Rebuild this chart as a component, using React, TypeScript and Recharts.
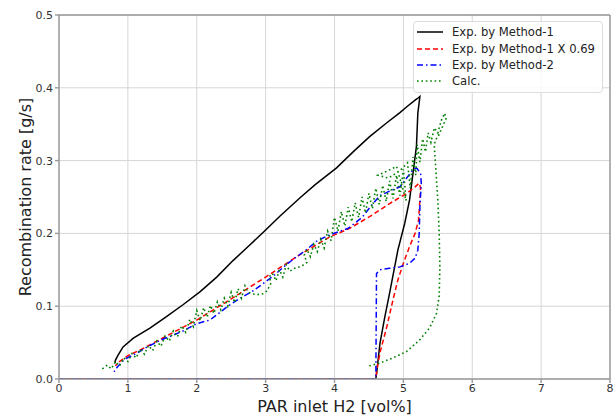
import React from 'react';
import { LineChart, Line, XAxis, YAxis, CartesianGrid, ReferenceLine, Legend } from 'recharts';

const FONT = '"DejaVu Sans", Verdana, sans-serif';

const xTicks = [0, 1, 2, 3, 4, 5, 6, 7, 8];
const yTicks = [0, 0.1, 0.2, 0.3, 0.4, 0.5];

// [PAR inlet H2 vol%, recombination rate g/s], in the order the curve is traced
const method1: [number, number][] = [
  [0, 0], [4.6, 0], [4.62, 0.015], [4.66, 0.049], [4.73, 0.085], [4.8, 0.118], [4.92, 0.177],
  [5.02, 0.214], [5.09, 0.246], [5.15, 0.29], [5.19, 0.32], [5.21, 0.365], [5.24, 0.388],
  [5.2, 0.385], [5.17, 0.383], [5.05, 0.374], [4.95, 0.366], [4.76, 0.352], [4.51, 0.333],
  [4.27, 0.312], [4.03, 0.29], [3.72, 0.267], [3.5, 0.249], [3.21, 0.224], [2.97, 0.202],
  [2.77, 0.184], [2.53, 0.163], [2.29, 0.14], [2.05, 0.12], [1.8, 0.102], [1.55, 0.085],
  [1.32, 0.07], [1.08, 0.056], [0.93, 0.044], [0.86, 0.033], [0.82, 0.026], [0.81, 0.022],
];

const method1Scaled: [number, number][] = [
  [0, 0], [4.6, 0], [4.62, 0.015], [4.66, 0.036], [4.76, 0.072], [4.85, 0.109], [4.92, 0.136],
  [5.0, 0.159], [5.09, 0.182], [5.17, 0.2], [5.22, 0.218], [5.24, 0.246], [5.25, 0.262],
  [5.23, 0.269], [5.17, 0.264], [5.05, 0.255], [4.8, 0.241], [4.51, 0.223], [4.22, 0.207],
  [3.93, 0.195], [3.5, 0.171], [3.0, 0.14], [2.5, 0.11], [2.0, 0.081], [1.5, 0.056],
  [1.2, 0.041], [1.0, 0.032], [0.85, 0.022], [0.82, 0.018],
];

const method2: [number, number][] = [
  [0, 0], [4.6, 0], [4.61, 0.145], [4.66, 0.15], [4.8, 0.152], [4.95, 0.154], [5.09, 0.159],
  [5.17, 0.166], [5.21, 0.177], [5.23, 0.2], [5.24, 0.237], [5.26, 0.269], [5.25, 0.282],
  [5.2, 0.289], [5.15, 0.289], [5.12, 0.285], [4.95, 0.264], [4.8, 0.258], [4.66, 0.252],
  [4.55, 0.24], [4.4, 0.222], [4.2, 0.207], [3.93, 0.198], [3.75, 0.19], [3.6, 0.178],
  [3.45, 0.168], [3.3, 0.157], [3.13, 0.143], [2.95, 0.13], [2.8, 0.12], [2.63, 0.111],
  [2.45, 0.1], [2.29, 0.088], [2.19, 0.081], [2.0, 0.076], [1.8, 0.066], [1.6, 0.058],
  [1.49, 0.054], [1.3, 0.045], [1.1, 0.034], [0.95, 0.027], [0.85, 0.017], [0.8, 0.01],
];

const calc: [number, number][] = [
  [0.63, 0.014], [0.7, 0.019], [0.76, 0.014], [0.82, 0.024], [0.88, 0.018], [0.94, 0.029],
  [1.0, 0.024], [1.06, 0.035], [1.12, 0.029], [1.18, 0.041], [1.24, 0.034], [1.3, 0.046],
  [1.36, 0.039], [1.42, 0.052], [1.48, 0.045], [1.54, 0.059], [1.6, 0.052], [1.66, 0.066],
  [1.72, 0.058], [1.78, 0.073], [1.84, 0.064], [1.9, 0.082], [1.95, 0.072], [2.0, 0.094],
  [2.05, 0.08], [2.1, 0.098], [2.15, 0.085], [2.2, 0.101], [2.25, 0.09], [2.3, 0.106],
  [2.35, 0.095], [2.4, 0.111], [2.45, 0.1], [2.5, 0.119], [2.55, 0.105], [2.6, 0.124],
  [2.65, 0.111], [2.7, 0.128], [2.74, 0.12], [2.8, 0.117], [2.88, 0.116], [2.96, 0.117],
  [3.02, 0.121], [3.08, 0.132], [3.05, 0.14], [3.1, 0.145], [3.15, 0.135], [3.2, 0.15],
  [3.25, 0.14], [3.3, 0.157], [3.35, 0.148], [3.42, 0.152], [3.52, 0.155], [3.6, 0.16],
  [3.56, 0.17], [3.6, 0.178], [3.65, 0.168], [3.7, 0.185], [3.75, 0.175], [3.8, 0.192],
  [3.85, 0.18], [3.9, 0.203], [3.95, 0.19], [4.0, 0.222], [4.05, 0.203], [4.1, 0.23],
  [4.15, 0.21], [4.2, 0.236], [4.25, 0.216], [4.3, 0.242], [4.35, 0.222], [4.4, 0.25],
  [4.45, 0.228], [4.5, 0.255], [4.55, 0.234], [4.6, 0.262], [4.65, 0.24], [4.7, 0.266],
  [4.75, 0.244], [4.8, 0.272], [4.85, 0.248], [4.9, 0.28], [4.95, 0.252], [5.0, 0.288],
  [5.04, 0.245], [4.9, 0.292], [4.75, 0.285], [4.63, 0.28], [4.78, 0.276], [4.95, 0.286],
  [5.06, 0.297], [5.1, 0.262], [5.14, 0.305], [5.18, 0.28], [5.2, 0.322], [5.24, 0.298],
  [5.28, 0.33], [5.32, 0.312], [5.36, 0.338], [5.4, 0.325], [5.45, 0.345], [5.5, 0.338],
  [5.55, 0.355], [5.6, 0.365], [5.62, 0.358], [5.5, 0.332], [5.46, 0.328], [5.45, 0.318],
  [5.47, 0.29], [5.5, 0.246], [5.52, 0.2], [5.53, 0.154], [5.52, 0.114], [5.48, 0.09],
  [5.38, 0.07], [5.24, 0.054], [5.05, 0.038], [4.85, 0.029], [4.66, 0.022], [4.5, 0.018],
];

const toPoints = (pairs: [number, number][]) => pairs.map(([x, y]) => ({ x, y }));

const series = [
  { name: 'Exp. by Method-1', data: method1, color: '#000000', dash: undefined as string | undefined, width: 1.5 },
  { name: 'Exp. by Method-1 X 0.69', data: method1Scaled, color: '#ff0000', dash: '5 3', width: 1.5 },
  { name: 'Exp. by Method-2', data: method2, color: '#0000ff', dash: '6 3 1.5 3', width: 1.5 },
  { name: 'Calc.', data: calc, color: '#008000', dash: '1.6 2.8', width: 1.6 },
];

function LegendBox() {
  return (
    <div
      style={{
        border: '1px solid #dcdcdc',
        borderRadius: 4,
        background: 'rgba(255,255,255,0.85)',
        padding: '2px 4px 2px 3px',
        fontFamily: FONT,
        fontSize: 11.6,
        color: '#222',
      }}
    >
      {series.map((s) => (
        <div key={s.name} style={{ display: 'flex', alignItems: 'center', height: 16.4 }}>
          <svg width={26} height={8}>
            <line x1={0} y1={4} x2={26} y2={4} stroke={s.color} strokeWidth={1.5} strokeDasharray={s.dash} />
          </svg>
          <span style={{ marginLeft: 9, whiteSpace: 'nowrap' }}>{s.name}</span>
        </div>
      ))}
    </div>
  );
}

function YTitle({ viewBox }: any) {
  const cx = 25;
  const cy = viewBox.y + viewBox.height / 2;
  return (
    <text
      x={cx}
      y={cy}
      transform={`rotate(-90 ${cx} ${cy})`}
      textAnchor="middle"
      dominantBaseline="central"
      fontFamily={FONT}
      fontSize={16}
      fill="#222"
    >
      Recombination rate [g/s]
    </text>
  );
}

function XTitle({ viewBox }: any) {
  const cx = viewBox.x + viewBox.width / 2;
  const cy = viewBox.y + 27;
  return (
    <text x={cx} y={cy} textAnchor="middle" dominantBaseline="central" fontFamily={FONT} fontSize={16} fill="#222">
      PAR inlet H2 [vol%]
    </text>
  );
}

const tickStyle = { fill: '#333', fontSize: 11, fontFamily: FONT };

export default function App() {
  return (
    <div style={{ position: 'absolute', left: 0, top: 0, width: 614, height: 415, background: '#fff' }}>
      <LineChart width={614} height={415} margin={{ top: 15, right: 4, bottom: 0, left: 0 }}>
        <CartesianGrid stroke="#d6d6d6" strokeWidth={1} />
        <XAxis
          dataKey="x"
          type="number"
          domain={[0, 8]}
          ticks={xTicks}
          allowDataOverflow
          height={36}
          tick={tickStyle}
          tickSize={4}
          tickMargin={1}
          stroke="#999"
          strokeWidth={1.4}
          label={<XTitle />}
        />
        <YAxis
          dataKey="y"
          type="number"
          domain={[0, 0.5]}
          ticks={yTicks}
          allowDataOverflow
          width={59}
          tick={tickStyle}
          tickSize={4}
          tickMargin={2}
          tickFormatter={(v: number) => v.toFixed(1)}
          stroke="#999"
          strokeWidth={1.4}
          label={<YTitle />}
        />
        <ReferenceLine y={0.5} stroke="#999" strokeWidth={1.4} />
        <ReferenceLine x={8} stroke="#999" strokeWidth={1.4} />
        {series.map((s) => (
          <Line
            key={s.name}
            name={s.name}
            data={toPoints(s.data)}
            dataKey="y"
            type="linear"
            stroke={s.color}
            strokeWidth={s.width}
            strokeDasharray={s.dash}
            dot={false}
            activeDot={false}
            isAnimationActive={false}
          />
        ))}
        <Legend
          content={<LegendBox />}
          layout="horizontal"
          align="center"
          verticalAlign="middle"
          wrapperStyle={{ left: 413, top: 21, width: 190 }}
        />
      </LineChart>
    </div>
  );
}
